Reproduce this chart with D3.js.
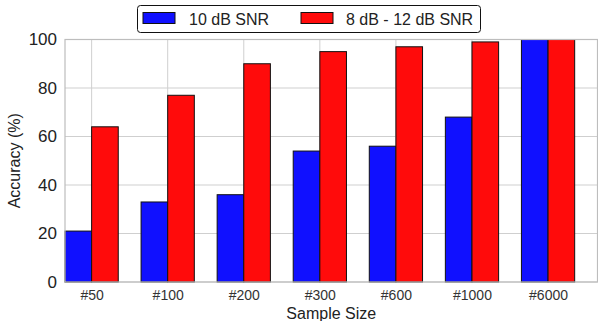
<!DOCTYPE html>
<html>
<head>
<meta charset="utf-8">
<script src="https://cdn.jsdelivr.net/npm/d3@7"></script>
<style>
  body { margin: 0; background: #fff; }
  text { font-family: "Liberation Sans", Arial, sans-serif; }
</style>
</head>
<body>
<svg width="598" height="321"></svg>
<script>
var categories = ["#50", "#100", "#200", "#300", "#600", "#1000", "#6000"];
var snr10 = [21, 33, 36, 54, 56, 68, 100];
var snr8to12 = [64, 77, 90, 95, 97, 99, 100];
var yTicks = [0, 20, 40, 60, 80, 100];
var seriesNames = ["10 dB SNR", "8 dB - 12 dB SNR"];
var seriesColors = ["#1010ff", "#ff0b0b"];

var svg = d3.select("svg");
var plotL = 65, plotR = 597.5, plotT = 39.5, plotB = 282;
var barW = 0.35;

var x = d3.scaleLinear().domain([0, 7]).range([plotL, plotR]);
var y = d3.scaleLinear().domain([0, 100]).range([plotB, plotT]);

// grid
svg.append("g").selectAll("line").data(yTicks).enter().append("line")
    .attr("x1", plotL).attr("x2", plotR)
    .attr("y1", function(d) { return y(d); }).attr("y2", function(d) { return y(d); })
    .attr("stroke", "#cfcfcf").attr("stroke-width", 1);
svg.append("g").selectAll("line").data(categories).enter().append("line")
    .attr("x1", function(d, i) { return x(i + barW); }).attr("x2", function(d, i) { return x(i + barW); })
    .attr("y1", plotT).attr("y2", plotB)
    .attr("stroke", "#cfcfcf").attr("stroke-width", 1);

// bars
var series = [snr10, snr8to12];
series.forEach(function(vals, s) {
    svg.append("g").selectAll("rect").data(vals).enter().append("rect")
        .attr("x", function(d, i) { return x(i + s * barW); })
        .attr("width", x(barW) - x(0))
        .attr("y", function(d) { return y(d); })
        .attr("height", function(d) { return y(0) - y(d); })
        .attr("fill", seriesColors[s])
        .attr("stroke", "#111").attr("stroke-width", 1);
});

// frame
svg.append("rect").attr("x", plotL).attr("y", plotT)
    .attr("width", plotR - plotL).attr("height", plotB - plotT)
    .attr("fill", "none").attr("stroke", "#bdbdbd").attr("stroke-width", 1.2);

// y ticks
var yAxis = d3.axisLeft(y).tickValues(yTicks).tickSize(0).tickPadding(8);
var gy = svg.append("g").attr("transform", "translate(" + plotL + ",0)").call(yAxis);
gy.select(".domain").remove();
gy.selectAll("text").attr("font-size", 17).attr("fill", "#222")
    .style("font-family", "Liberation Sans, Arial, sans-serif");

// x ticks
var xAxis = d3.axisBottom(x).tickValues(categories.map(function(d, i) { return i + barW; }))
    .tickFormat(function(d, i) { return categories[i]; }).tickSize(0).tickPadding(8);
var gx = svg.append("g").attr("transform", "translate(0," + plotB + ")").call(xAxis);
gx.select(".domain").remove();
gx.selectAll("text").attr("font-size", 14).attr("fill", "#333")
    .style("font-family", "Liberation Sans, Arial, sans-serif");

// axis labels
svg.append("text").attr("x", (plotL + plotR) / 2).attr("y", 319)
    .attr("text-anchor", "middle").attr("font-size", 16).attr("fill", "#222")
    .text("Sample Size");
svg.append("text").attr("transform", "translate(20," + ((plotT + plotB) / 2) + ") rotate(-90)")
    .attr("text-anchor", "middle").attr("font-size", 16).attr("fill", "#222")
    .text("Accuracy (%)");

// legend
var lg = svg.append("g");
lg.append("rect").attr("x", 137.5).attr("y", 5.5).attr("width", 343).attr("height", 27)
    .attr("rx", 3).attr("fill", "#fff").attr("stroke", "#111").attr("stroke-width", 1);
var lx = [143, 301], tx = [189, 346];
seriesNames.forEach(function(name, s) {
    lg.append("rect").attr("x", lx[s]).attr("y", 12.5).attr("width", 32).attr("height", 11)
        .attr("fill", seriesColors[s]).attr("stroke", "#111").attr("stroke-width", 1);
    lg.append("text").attr("x", tx[s]).attr("y", 24.5).attr("font-size", 16).attr("fill", "#222")
        .text(name);
});
</script>
</body>
</html>
